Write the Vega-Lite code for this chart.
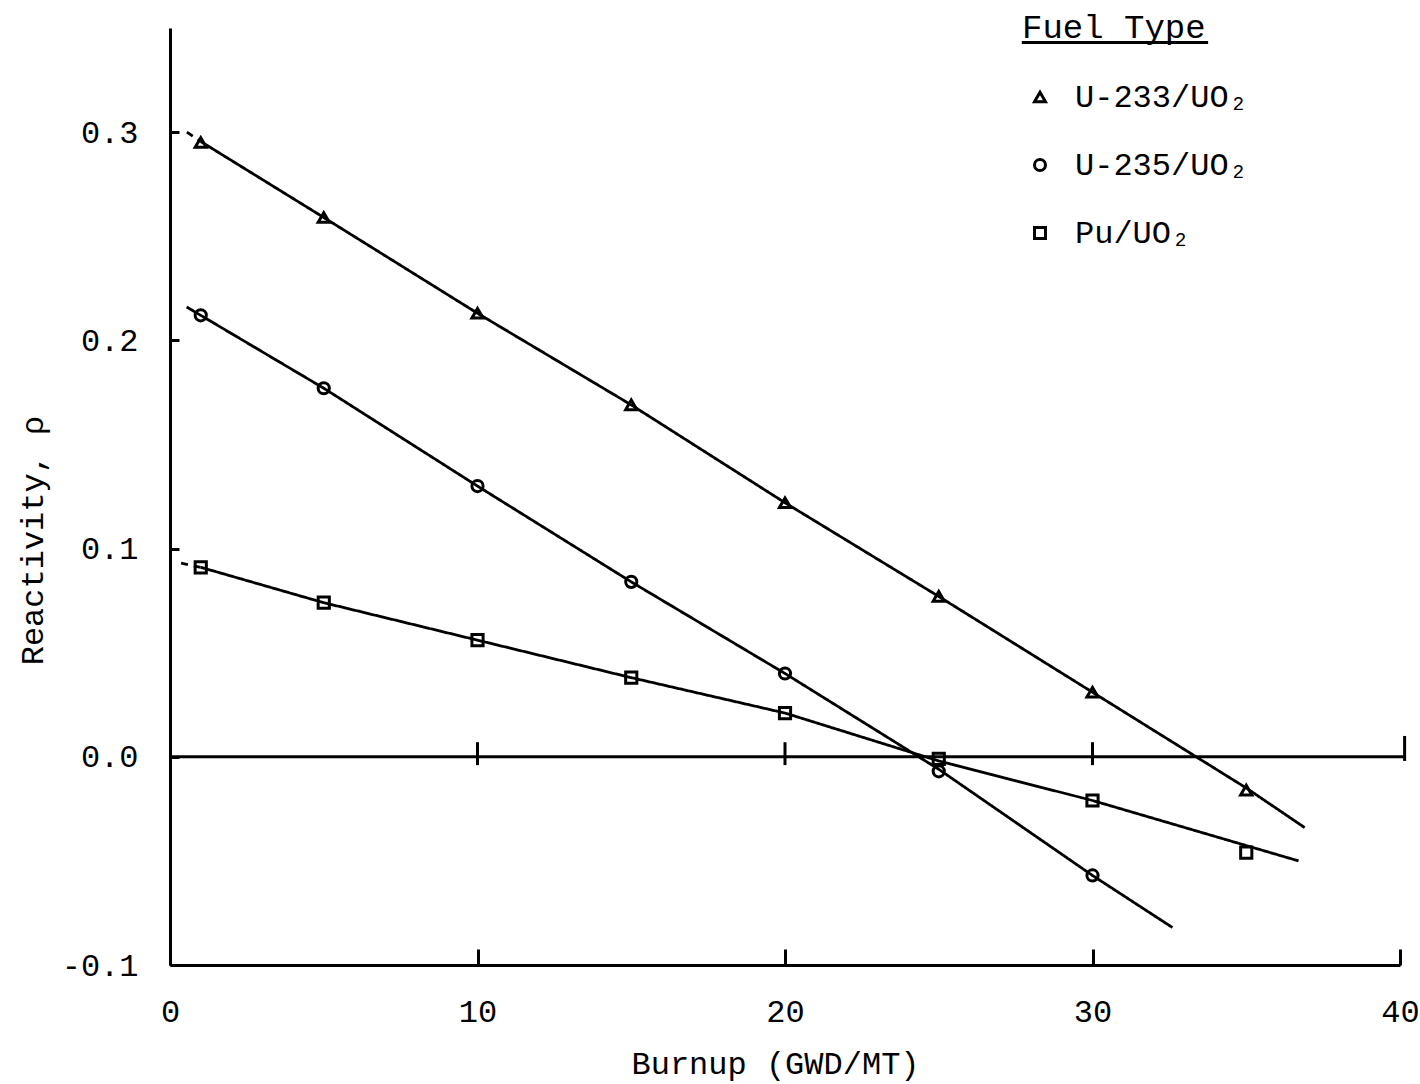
{
  "$schema": "https://vega.github.io/schema/vega-lite/v6.json",
  "width": 1230,
  "height": 937,
  "autosize": {"type": "none"},
  "padding": {"left": 170, "top": 28, "right": 20, "bottom": 119},
  "background": "white",
  "config": {
    "font": "Liberation Mono",
    "view": {"stroke": null},
    "axis": {
      "grid": false,
      "domainColor": "black",
      "domainWidth": 3,
      "tickColor": "black",
      "tickWidth": 3,
      "labelColor": "black",
      "titleColor": "black",
      "labelFont": "Liberation Mono",
      "titleFont": "Liberation Mono",
      "labelFontSize": 32,
      "titleFontSize": 32,
      "titleFontWeight": "normal",
      "labelFlush": false,
      "labelOverlap": false
    },
    "axisX": {
      "tickSize": -16,
      "labelPadding": 47,
      "titleX": 605,
      "titleY": 98,
      "titleBaseline": "middle"
    },
    "axisY": {
      "tickSize": -9,
      "labelPadding": 41,
      "titleX": -138,
      "titleY": 512,
      "titleBaseline": "middle"
    },
    "legend": {
      "orient": "none",
      "legendX": 852,
      "legendY": -17,
      "padding": 0,
      "titleFont": "Liberation Mono",
      "titleFontSize": 34,
      "titleFontWeight": "normal",
      "titleColor": "black",
      "titleLimit": 0,
      "titlePadding": 36,
      "labelFont": "Liberation Mono",
      "labelFontSize": 32,
      "labelColor": "black",
      "labelLimit": 0,
      "labelOffset": 19,
      "rowPadding": 36,
      "symbolOffset": 2,
      "symbolSize": 120,
      "symbolStrokeColor": "black",
      "symbolStrokeWidth": 3,
      "symbolFillColor": "transparent"
    }
  },
  "datasets": {
    "rules": [
      {"b": 0, "b2": 40.15, "lo": 0, "hi": 0},
      {"b": 10, "b2": 10, "lo": -0.004, "hi": 0.007},
      {"b": 20, "b2": 20, "lo": -0.004, "hi": 0.007},
      {"b": 30, "b2": 30, "lo": -0.004, "hi": 0.007},
      {"b": 40.15, "b2": 40.15, "lo": -0.002, "hi": 0.01},
      {"b": 27.7, "b2": 33.76, "lo": 0.343, "hi": 0.343}
    ],
    "curves": [
      {"fuel": "U-233/UO₂", "part": "ext", "burnup": 0.55, "rho": 0.3},
      {"fuel": "U-233/UO₂", "part": "ext", "burnup": 1, "rho": 0.2955},
      {"fuel": "U-233/UO₂", "part": "fit", "burnup": 1, "rho": 0.2955},
      {"fuel": "U-233/UO₂", "part": "fit", "burnup": 5, "rho": 0.259},
      {"fuel": "U-233/UO₂", "part": "fit", "burnup": 10, "rho": 0.213},
      {"fuel": "U-233/UO₂", "part": "fit", "burnup": 15, "rho": 0.169},
      {"fuel": "U-233/UO₂", "part": "fit", "burnup": 20, "rho": 0.122},
      {"fuel": "U-233/UO₂", "part": "fit", "burnup": 25, "rho": 0.077},
      {"fuel": "U-233/UO₂", "part": "fit", "burnup": 30, "rho": 0.031},
      {"fuel": "U-233/UO₂", "part": "fit", "burnup": 35, "rho": -0.015},
      {"fuel": "U-233/UO₂", "part": "fit", "burnup": 36.9, "rho": -0.034},
      {"fuel": "U-235/UO₂", "part": "fit", "burnup": 0.54, "rho": 0.216},
      {"fuel": "U-235/UO₂", "part": "fit", "burnup": 1, "rho": 0.212},
      {"fuel": "U-235/UO₂", "part": "fit", "burnup": 5, "rho": 0.177},
      {"fuel": "U-235/UO₂", "part": "fit", "burnup": 10, "rho": 0.13},
      {"fuel": "U-235/UO₂", "part": "fit", "burnup": 15, "rho": 0.084},
      {"fuel": "U-235/UO₂", "part": "fit", "burnup": 20, "rho": 0.04},
      {"fuel": "U-235/UO₂", "part": "fit", "burnup": 25, "rho": -0.006},
      {"fuel": "U-235/UO₂", "part": "fit", "burnup": 30, "rho": -0.057},
      {"fuel": "U-235/UO₂", "part": "fit", "burnup": 32.6, "rho": -0.082},
      {"fuel": "Pu/UO₂", "part": "ext", "burnup": 0.36, "rho": 0.093},
      {"fuel": "Pu/UO₂", "part": "ext", "burnup": 1, "rho": 0.091},
      {"fuel": "Pu/UO₂", "part": "fit", "burnup": 1, "rho": 0.091},
      {"fuel": "Pu/UO₂", "part": "fit", "burnup": 5, "rho": 0.074},
      {"fuel": "Pu/UO₂", "part": "fit", "burnup": 10, "rho": 0.056},
      {"fuel": "Pu/UO₂", "part": "fit", "burnup": 15, "rho": 0.038},
      {"fuel": "Pu/UO₂", "part": "fit", "burnup": 20, "rho": 0.021},
      {"fuel": "Pu/UO₂", "part": "fit", "burnup": 25, "rho": -0.002},
      {"fuel": "Pu/UO₂", "part": "fit", "burnup": 30, "rho": -0.021},
      {"fuel": "Pu/UO₂", "part": "fit", "burnup": 36.7, "rho": -0.05}
    ],
    "points": [
      {"fuel": "U-233/UO₂", "burnup": 1, "rho": 0.295},
      {"fuel": "U-233/UO₂", "burnup": 5, "rho": 0.259},
      {"fuel": "U-233/UO₂", "burnup": 10, "rho": 0.213},
      {"fuel": "U-233/UO₂", "burnup": 15, "rho": 0.169},
      {"fuel": "U-233/UO₂", "burnup": 20, "rho": 0.122},
      {"fuel": "U-233/UO₂", "burnup": 25, "rho": 0.077},
      {"fuel": "U-233/UO₂", "burnup": 30, "rho": 0.031},
      {"fuel": "U-233/UO₂", "burnup": 35, "rho": -0.016},
      {"fuel": "U-235/UO₂", "burnup": 1, "rho": 0.212},
      {"fuel": "U-235/UO₂", "burnup": 5, "rho": 0.177},
      {"fuel": "U-235/UO₂", "burnup": 10, "rho": 0.13},
      {"fuel": "U-235/UO₂", "burnup": 15, "rho": 0.084},
      {"fuel": "U-235/UO₂", "burnup": 20, "rho": 0.04},
      {"fuel": "U-235/UO₂", "burnup": 25, "rho": -0.007},
      {"fuel": "U-235/UO₂", "burnup": 30, "rho": -0.057},
      {"fuel": "Pu/UO₂", "burnup": 1, "rho": 0.091},
      {"fuel": "Pu/UO₂", "burnup": 5, "rho": 0.074},
      {"fuel": "Pu/UO₂", "burnup": 10, "rho": 0.056},
      {"fuel": "Pu/UO₂", "burnup": 15, "rho": 0.038},
      {"fuel": "Pu/UO₂", "burnup": 20, "rho": 0.021},
      {"fuel": "Pu/UO₂", "burnup": 25, "rho": -0.001},
      {"fuel": "Pu/UO₂", "burnup": 30, "rho": -0.021},
      {"fuel": "Pu/UO₂", "burnup": 35, "rho": -0.046}
    ]
  },
  "layer": [
    {
      "data": {"name": "rules"},
      "mark": {"type": "rule", "color": "black", "strokeWidth": 3},
      "encoding": {
        "x": {"field": "b", "type": "quantitative", "title": "Burnup (GWD/MT)", "scale": {"domain": [0, 40], "nice": false, "zero": false}, "axis": {"values": [0, 10, 20, 30, 40], "format": "d"}},
        "x2": {"field": "b2"},
        "y": {"field": "lo", "type": "quantitative", "title": "Reactivity, ρ", "scale": {"domain": [-0.1, 0.35], "nice": false, "zero": false}, "axis": {"values": [-0.1, 0, 0.1, 0.2, 0.3], "labelExpr": "replace(format(datum.value, '.1f'), '\u2212', '-')"}},
        "y2": {"field": "hi"}
      }
    },
    {
      "data": {"name": "curves"},
      "mark": {"type": "line", "color": "black", "strokeWidth": 2.8, "clip": false},
      "encoding": {
        "x": {"field": "burnup", "type": "quantitative", "title": "Burnup (GWD/MT)", "axis": {"values": [0, 10, 20, 30, 40], "format": "d"}},
        "y": {"field": "rho", "type": "quantitative", "title": "Reactivity, ρ", "axis": {"values": [-0.1, 0, 0.1, 0.2, 0.3], "labelExpr": "replace(format(datum.value, '.1f'), '\u2212', '-')"}},
        "detail": {"field": "fuel"},
        "strokeDash": {"field": "part", "type": "nominal", "scale": {"domain": ["ext", "fit"], "range": [[7, 6], [1, 0]]}, "legend": null}
      }
    },
    {
      "data": {"name": "points"},
      "mark": {"type": "point", "color": "black", "filled": false, "strokeWidth": 3, "size": 125, "opacity": 1},
      "encoding": {
        "x": {"field": "burnup", "type": "quantitative", "title": "Burnup (GWD/MT)", "axis": {"values": [0, 10, 20, 30, 40], "format": "d"}},
        "y": {"field": "rho", "type": "quantitative", "title": "Reactivity, ρ", "axis": {"values": [-0.1, 0, 0.1, 0.2, 0.3], "labelExpr": "replace(format(datum.value, '.1f'), '\u2212', '-')"}},
        "shape": {
          "field": "fuel",
          "type": "nominal",
          "title": "Fuel Type",
          "scale": {"domain": ["U-233/UO₂", "U-235/UO₂", "Pu/UO₂"], "range": ["triangle-up", "circle", "square"]}
        }
      }
    }
  ]
}
